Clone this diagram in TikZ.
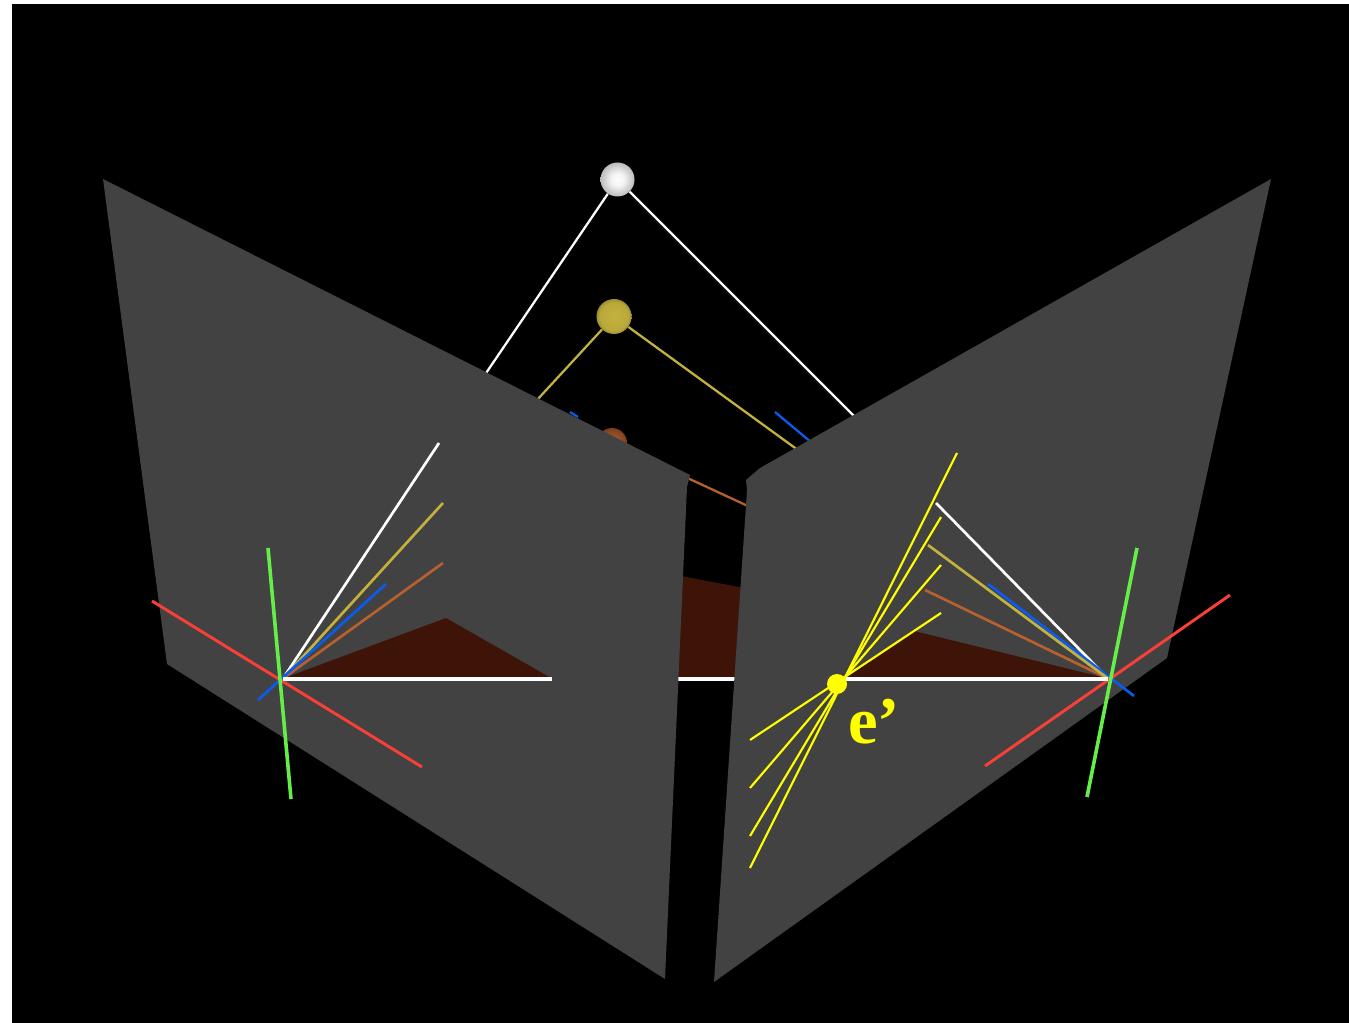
\documentclass[tikz,border=0pt]{standalone}
\usepackage{fontspec}
\setmainfont{Liberation Serif}
\definecolor{panelgray}{HTML}{424242}
\definecolor{darkred}{HTML}{3E1408}
\definecolor{rgold}{HTML}{C4B23E}
\definecolor{rorange}{HTML}{B8602E}
\definecolor{rblue}{HTML}{0A5CF0}
\definecolor{rred}{HTML}{F84038}
\definecolor{rgreen}{HTML}{66EE48}
\definecolor{ryellow}{HTML}{FFFF00}
\pgfdeclareradialshading{swhite}{\pgfpoint{0bp}{0bp}}{color(0bp)=(white); color(10bp)=(white!95!black); color(26bp)=(white!72!black); color(35bp)=(white!40!black); color(50bp)=(black)}
\pgfdeclareradialshading{sgold}{\pgfpoint{0bp}{0bp}}{color(0bp)=(rgold); color(20bp)=(rgold!95!black); color(28bp)=(rgold!72!black); color(35bp)=(rgold!25!black); color(50bp)=(black)}
\pgfdeclareradialshading{sbrown}{\pgfpoint{0bp}{0bp}}{color(0bp)=(rorange); color(20bp)=(rorange!75!black); color(28bp)=(rorange!60!black); color(35bp)=(rorange!20!black); color(50bp)=(black)}
\tikzset{
  panel/.style={fill=panelgray,draw=none},
  tri/.style={fill=darkred,draw=none},
  base/.style={draw=white,line width=3pt},
  sceneray/.style={line width=1.7pt},
  ray/.style={line width=2pt},
  axis/.style={line width=2.2pt},
  greenaxis/.style={draw=rgreen,line width=2.7pt},
  epi/.style={draw=ryellow,line width=1.6pt},
  ball/.style={circle,inner sep=0pt,minimum size=#1*0.75pt,draw=none}
}
\begin{document}
\begin{tikzpicture}[x=0.75pt,y=-0.75pt]
\useasboundingbox (0,0) rectangle (1349,1023);
\fill[white] (0,0) rectangle (1349,1023);
\fill[black] (12,4) rectangle (1349,1023);
% spheres in the scene
\node[ball=34,shading=swhite] (wball) at (617.5,179.5) {};
\node[ball=35,shading=sgold] (gball) at (614,316.5) {};
\node[ball=30,shading=sbrown] (oball) at (612,443) {};
% hidden ends of the scene rays
\coordinate (wl) at (480,382);
\coordinate (wr) at (862,424);
\coordinate (gl) at (537,400);
\coordinate (gr) at (802,453);
\coordinate (or) at (750,507);
\coordinate (bla) at (570,412);
\coordinate (blb) at (578,417);
\coordinate (bra) at (775,412);
\coordinate (brb) at (812,443);
\draw[sceneray,white] (wball) -- (wl);
\draw[sceneray,white] (wball) -- (wr);
\draw[sceneray,rgold] (gball) -- (gl);
\draw[sceneray,rgold] (gball) -- (gr);
\draw[sceneray,rorange] (oball) -- (or);
\draw[sceneray,rblue] (bla) -- (blb);
\draw[sceneray,rblue] (bra) -- (brb);
% scene object seen through the gap
\fill[tri] (660,572) -- (760,591) -- (760,678) -- (660,678) -- cycle;
\coordinate (ma) at (660,678.5);
\coordinate (mb) at (760,678.5);
\draw[base] (ma) -- (mb);
% panels
\fill[panel] (103,179) -- (690,475) -- (687,487) -- (665,979) -- (167,664) -- cycle;
\fill[panel] (1271,179) -- (760,468) -- (746,480) -- (747,490) -- (714,982) -- (1167,658) -- cycle;
% left panel
\coordinate (lo) at (283,678.5);
\coordinate (lap) at (446,618);
\coordinate (lend) at (552,678.5);
\fill[tri] (lo) -- (lap) -- (lend) -- cycle;
\coordinate (lw) at (439,443);
\coordinate (lg) at (443,503);
\coordinate (lor) at (443,563);
\coordinate (lb1) at (386,584);
\coordinate (lb2) at (258,700);
\coordinate (lr1) at (152,601);
\coordinate (lr2) at (422,767);
\coordinate (lg1) at (268,548);
\coordinate (lg2) at (291,799);
\draw[ray,white] (lo) -- (lw);
\draw[ray,rgold] (lo) -- (lg);
\draw[ray,rorange] (lo) -- (lor);
\draw[ray,rblue] (lb1) -- (lb2);
\draw[axis,rred] (lr1) -- (lr2);
\draw[base] (lo) -- (lend);
\draw[greenaxis] (lg1) -- (lg2);
% right panel
\coordinate (ro) at (1108,678.5);
\coordinate (rap) at (914,631);
\coordinate (rend) at (845,678.5);
\fill[tri] (ro) -- (rap) -- (rend) -- cycle;
\coordinate (rw) at (936,503);
\coordinate (rg) at (928,545);
\coordinate (ror) at (925,590);
\coordinate (rb1) at (988,584);
\coordinate (rb2) at (1134,696);
\coordinate (rr1) at (1230,595);
\coordinate (rr2) at (985,766);
\coordinate (rg1) at (1137,548);
\coordinate (rg2) at (1087,797);
\draw[ray,white] (ro) -- (rw);
\draw[ray,rorange] (ro) -- (ror);
\draw[ray,rblue] (rb1) -- (rb2);
\draw[ray,rgold] (ro) -- (rg);
\draw[axis,rred] (rr1) -- (rr2);
\draw[base] (ro) -- (rend);
\draw[greenaxis] (rg1) -- (rg2);
% epipolar lines
\coordinate (ea1) at (957,453);
\coordinate (ea2) at (750,868);
\coordinate (eb1) at (941,517);
\coordinate (eb2) at (750,836);
\coordinate (ec1) at (941,565);
\coordinate (ec2) at (750,788);
\coordinate (ed1) at (941,613);
\coordinate (ed2) at (750,740);
\draw[epi] (ea1) -- (ea2);
\draw[epi] (eb1) -- (eb2);
\draw[epi] (ec1) -- (ec2);
\draw[epi] (ed1) -- (ed2);
\node[circle,fill=ryellow,inner sep=0pt,minimum size=15pt] (epole) at (837,684) {};
\node[anchor=base west,inner sep=0pt,text=ryellow,font=\fontsize{50pt}{50pt}\selectfont\bfseries] (elabel) at (848,743) {e’};
\end{tikzpicture}
\end{document}
